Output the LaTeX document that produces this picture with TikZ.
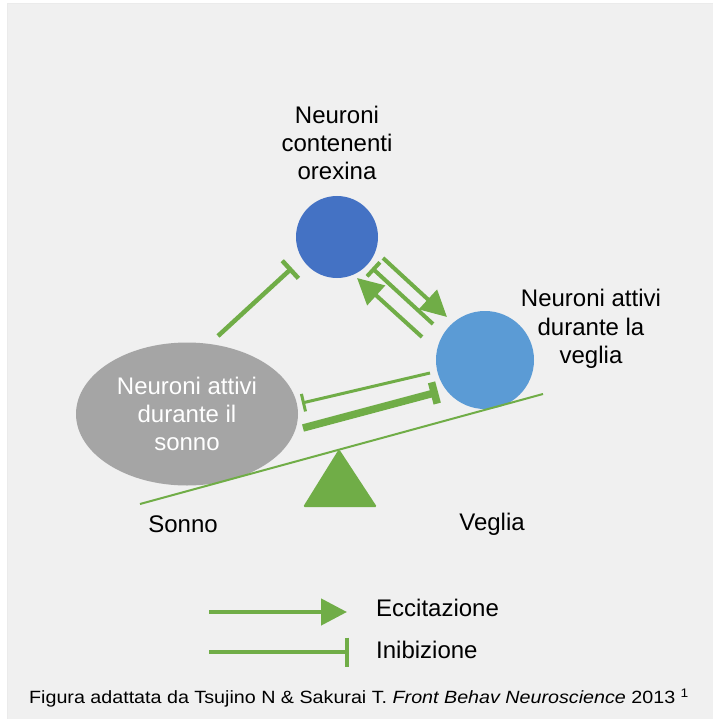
\documentclass[tikz,border=0pt]{standalone}
\usepackage{fontspec}
\setmainfont{Liberation Sans}
\usetikzlibrary{arrows.meta,shapes.geometric,positioning}
\definecolor{exgreen}{HTML}{70AD47}
\definecolor{orexblue}{HTML}{4472C4}
\definecolor{wakeblue}{HTML}{5B9BD5}
\definecolor{sleepgray}{HTML}{A5A5A5}
\definecolor{panelgray}{HTML}{F0F0F0}

\begin{document}
\begin{tikzpicture}[x=1pt,y=-1pt,
    excite/.style={draw=exgreen, line width=4.5pt, -{Triangle[length=26pt,width=26pt]}},
    inhibit/.style={draw=exgreen, line width=4.5pt, -{Bar[width=24pt]}},
    lbl/.style={font=\fontsize{24}{28.3}\selectfont, align=center, inner sep=0pt},
  ]
  % Background panel
  \useasboundingbox (0,0) rectangle (713,719);
  \fill[panelgray] (7,3) rectangle (713,719);
  \draw[black!8, line width=0.6pt] (7,719) -- (7,3) -- (713,3);

  % Neurons
  \node[circle, fill=orexblue, minimum size=82pt, inner sep=0pt] (orex) at (337,237) {};
  \node[circle, fill=wakeblue, minimum size=98pt, inner sep=0pt] (wake) at (485,360) {};
  \node[ellipse, fill=sleepgray, minimum width=222pt, minimum height=143pt,
        lbl, text=white] (sleep) at (187,414) {Neuroni attivi\\durante il\\sonno};
  \node[lbl] (orexlabel) at (337,143) {Neuroni\\contenenti\\orexina};
  \node[lbl] (wakelabel) at (591,329) {Neuroni attivi\\durante la\\veglia};

  % Seesaw
  \draw[exgreen, line width=2pt] (140,504) -- (543,394);
  \fill[exgreen, rounded corners=1.5pt] (339,449) -- (303,507) -- (377,507) -- cycle;
  \node[lbl] (sonno) at (183,524) {Sonno};
  \node[lbl] (veglia) at (492,524) {Veglia};

  % Connections
  \coordinate (s1) at (218,336);
  \coordinate (o1) at (292,268);
  \coordinate (w1) at (433,324);
  \coordinate (o2) at (372,268);
  \coordinate (w2) at (422,337);
  \coordinate (o3) at (357,278);
  \coordinate (o4) at (383,258);
  \coordinate (w3) at (447,317);
  \coordinate (w4) at (430,373);
  \coordinate (s2) at (302,403);
  \coordinate (s3) at (303,428);
  \coordinate (w5) at (438,392);
  \draw[inhibit] (s1) -- (o1);
  \draw[inhibit, line width=4pt, -{Bar[width=19pt]}] (w1) -- (o2);
  \draw[excite, line width=4pt] (w2) -- (o3);
  \draw[excite, line width=4pt] (o4) -- (w3);
  \draw[inhibit, line width=3pt, -{Bar[width=18pt]}] (w4) -- (s2);
  \draw[inhibit, line width=7.5pt, -{Bar[width=22pt]}] (s3) -- (w5);

  % Legend
  \coordinate (ex1) at (209,612);
  \coordinate (ex2) at (347,612);
  \coordinate (in1) at (209,652);
  \coordinate (in2) at (349,652);
  \draw[excite] (ex1) -- (ex2);
  \draw[inhibit, line width=4pt, -{Bar[width=29pt]}] (in1) -- (in2);
  \node[lbl, anchor=west] (exlabel) at (376,608) {Eccitazione};
  \node[lbl, anchor=west] (inlabel) at (376,650) {Inibizione};

  % Source
  \node[font=\fontsize{19.7}{22}\selectfont, yscale=0.9, inner sep=0pt] (source) at (359,698)
    {Figura adattata da Tsujino N \& Sakurai T. \textit{Front Behav Neuroscience} 2013 \textsuperscript{1}};
\end{tikzpicture}
\end{document}
